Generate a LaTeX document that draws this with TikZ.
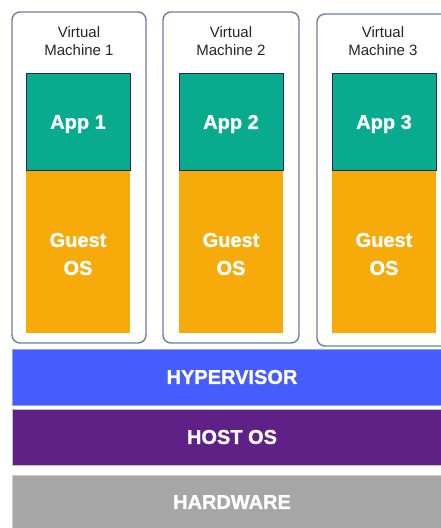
\documentclass[tikz,border=0pt]{standalone}
\usepackage{fontspec}
\setmainfont{Liberation Sans}
\newfontfamily\heavyfont{Liberation Sans Bold}[FakeBold=1.2]
\begin{document}
\begin{tikzpicture}[x=1pt,y=-1pt,
  vmbox/.style={draw=vmedge, line width=1.4pt, rounded corners=8pt, fill=white},
  layer/.style={anchor=north west, inner sep=0pt, outer sep=0pt},
  appbox/.style={layer, fill=appteal, draw=appedge, line width=0.8pt,
    minimum width=104pt, minimum height=97pt},
  osbox/.style={layer, fill=osorange, minimum width=104pt, minimum height=163pt},
  barbox/.style={layer, minimum width=440pt, minimum height=56pt},
  boxlabel/.style={text=white, align=center, inner sep=0pt,
    font=\heavyfont\fontsize{20}{28}\selectfont},
  vmlabel/.style={align=center, inner sep=0pt, text=black!85,
    font=\fontsize{15}{18.5}\selectfont}]
\definecolor{vmedge}{HTML}{6E7DA3}
\definecolor{appteal}{HTML}{08AB8E}
\definecolor{appedge}{HTML}{1F2B55}
\definecolor{osorange}{HTML}{F6AB0A}
\definecolor{hvblue}{HTML}{445DFC}
\definecolor{hostpurple}{HTML}{5F2185}
\definecolor{hwgray}{HTML}{A6A6A6}
\useasboundingbox (0,0) rectangle (441,528);
\clip (0,0) rectangle (441,528);
\fill[white] (0,0) rectangle (441,528);

% virtual machine frames
\draw[vmbox] (12,12) rectangle (146,343);
\draw[vmbox] (163,12) rectangle (299,343);
\draw[vmbox] (317,14) rectangle (452,346);

% frame captions
\node[vmlabel] (vm1) at (79,41) {Virtual\\Machine 1};
\node[vmlabel] (vm2) at (231,41) {Virtual\\Machine 2};
\node[vmlabel] (vm3) at (383,41) {Virtual\\Machine 3};

% guest operating systems
\node[osbox] (os1) at (26,170) {};
\node[osbox] (os2) at (179,170) {};
\node[osbox] (os3) at (332,170) {};
\node[boxlabel] (os1t) at (78,254) {Guest\\OS};
\node[boxlabel] (os2t) at (231,254) {Guest\\OS};
\node[boxlabel] (os3t) at (384,254) {Guest\\OS};

% applications
\node[appbox] (app1) at (26,73) {};
\node[appbox] (app2) at (179,73) {};
\node[appbox] (app3) at (332,73) {};
\node[boxlabel] (app1t) at (78,124) {App 1};
\node[boxlabel] (app2t) at (231,124) {App 2};
\node[boxlabel] (app3t) at (384,124) {App 3};

% shared layers
\node[barbox, fill=hvblue, draw=hvblue!60!white, line width=0.8pt] (hv) at (12,349) {};
\node[barbox, fill=hostpurple, draw=black!25, line width=0.8pt] (host) at (12,409) {};
\node[barbox, fill=hwgray, draw=black!20, line width=0.8pt, minimum height=60pt] (hw) at (12,475) {};
\node[boxlabel] (hvt) at (232,377) {HYPERVISOR};
\node[boxlabel] (hostt) at (232,437) {HOST OS};
\node[boxlabel] (hwt) at (232,502) {HARDWARE};
\end{tikzpicture}
\end{document}
